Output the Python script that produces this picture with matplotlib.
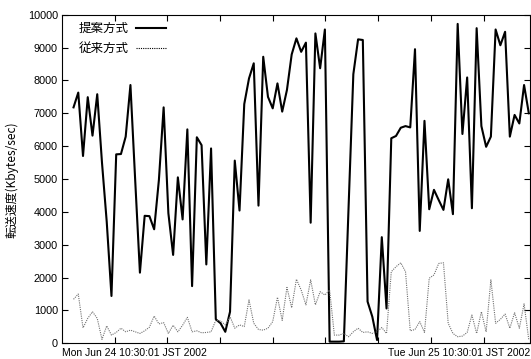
import numpy as np
import matplotlib
matplotlib.use('Agg')
import matplotlib.pyplot as plt

# 15分おきのサンプル (Mon Jun 24 10:30:01 JST 2002 から 24時間)
proposed = [7180, 7630, 5700, 7490, 6320, 7580, 5500, 3700, 1440, 5750,
            5760, 6290, 7860, 4970, 2150, 3880, 3870, 3470, 4970, 7180,
            3960, 2690, 5050, 3770, 6510, 1740, 6270, 6030, 2400, 5930,
            730, 610, 350, 960, 5560, 4040, 7280, 8060, 8520, 4190,
            8720, 7500, 7150, 7910, 7050, 7710, 8790, 9280, 8870, 9150,
            3670, 9430, 8370, 9550, 50, 50, 50, 60, 4160, 8190,
            9250, 9230, 1270, 810, 100, 3230, 1060, 6240, 6310, 6560,
            6610, 6570, 8950, 3420, 6770, 4080, 4670, 4360, 4060, 4990,
            3930, 9720, 6370, 8090, 4110, 9590, 6610, 5980, 6290, 9550,
            9070, 9480, 6290, 6950, 6690, 7860, 7000]

conventional = [1340, 1500, 470, 760, 960, 760, 120, 530, 250, 330,
                460, 350, 400, 350, 300, 380, 490, 830, 590, 630,
                300, 550, 350, 550, 790, 350, 380, 320, 330, 350,
                700, 680, 560, 810, 460, 560, 510, 1320, 610, 420,
                400, 460, 660, 1400, 700, 1700, 1080, 1950, 1620, 1170,
                1930, 1170, 1570, 1470, 1620, 250, 250, 300, 200, 350,
                460, 330, 350, 300, 350, 480, 300, 2180, 2330, 2450,
                2180, 380, 420, 660, 330, 1980, 2080, 2430, 2450, 610,
                300, 200, 220, 330, 860, 300, 960, 350, 1930, 610,
                730, 890, 460, 930, 460, 1200, 100]

labels = ['提案方式', '従来方式']
start_label = 'Mon Jun 24 10:30:01 JST 2002'
end_label = 'Tue Jun 25 10:30:01 JST 2002'
ylabel = '転送速度(Kbytes/sec)'

sample_sec = 900
tick_sec = 10000
first_tick = -2.43  # サンプル番号で表した最初の目盛り位置

plt.rcParams['font.family'] = ['Liberation Sans', 'DejaVu Sans']

fig = plt.figure(figsize=(5.31, 3.59), dpi=100)
ax = fig.add_axes([62 / 531, 15.7 / 359, 468 / 531, 328.6 / 359])

x = np.arange(len(proposed))
ax.plot(x, proposed, color='black', lw=1.5, label=labels[0])
ax.plot(x, conventional, color='#707070', lw=0.8, linestyle=(0, (1, 1)),
        label=labels[1])

step = tick_sec / sample_sec
ax.set_xlim(first_tick, len(proposed) - 0.75)
ax.set_xticks(first_tick + step * np.arange(1, 9))
ax.set_xticklabels([])
ax.set_ylim(0, 10000)
ax.set_yticks(np.arange(0, 10001, 1000))
ax.tick_params(direction='in', top=True, right=True, length=4, width=0.8,
               labelsize=7.8, pad=3)
for s in ax.spines.values():
    s.set_linewidth(0.8)

ax.text(0, -0.015, start_label, transform=ax.transAxes, ha='left', va='top',
        fontsize=7.5)
ax.text(1.0, -0.015, end_label, transform=ax.transAxes, ha='right', va='top',
        fontsize=7.5)

fig.text(12 / 531, 0.5, ylabel, rotation=90, ha='center', va='center',
         fontsize=8.6, family=['Noto Sans CJK JP', 'DejaVu Sans'])

leg = ax.legend(loc='upper left', bbox_to_anchor=(0.02, 1.0), frameon=False,
                markerfirst=False, handlelength=2.4, handletextpad=0.6,
                labelspacing=0.55, borderaxespad=0.2,
                prop={'family': 'Noto Sans CJK JP', 'size': 9})
for line in leg.get_lines():
    line.set_color('black')

fig.savefig('out.png', dpi=100)
